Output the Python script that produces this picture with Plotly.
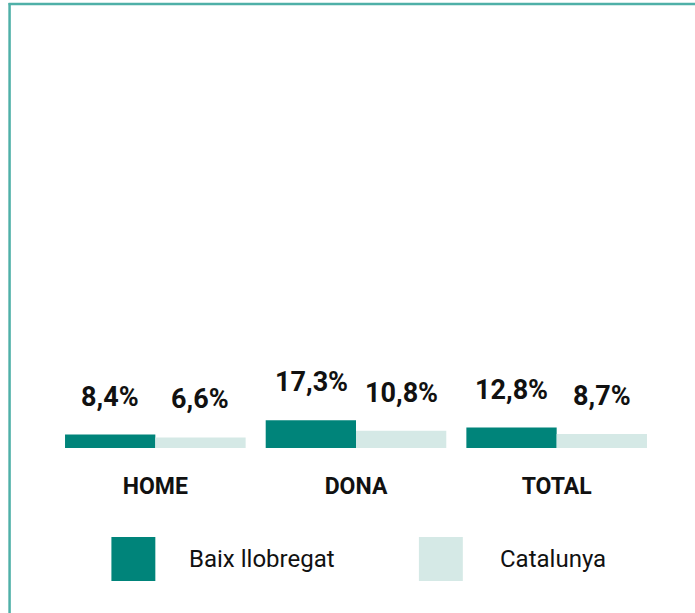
import plotly.graph_objects as go

categories = ["HOME", "DONA", "TOTAL"]
baix_values = [8.4, 17.3, 12.8]
catalunya_values = [6.6, 10.8, 8.7]
series_names = ["Baix llobregat", "Catalunya"]

BAIX_COLOR = "#00847a"
CAT_COLOR = "#d5e9e6"
BORDER_COLOR = "#4fb0a8"
TEXT_COLOR = "#111111"
FONT = "Roboto"

W, H = 695, 613
L, R, T, B = 54.5, 37.5, 48, 165
PW, PH = W - L - R, H - T - B


def px(x):
    return (x - L) / PW


def py(y):
    return (H - B - y) / PH


def fmt(v):
    return f"{v:.1f}".replace(".", ",") + "%"


fig = go.Figure()
fig.add_trace(go.Bar(x=categories, y=baix_values, name=series_names[0],
                     marker=dict(color=BAIX_COLOR, line=dict(width=0))))
fig.add_trace(go.Bar(x=categories, y=catalunya_values, name=series_names[1],
                     marker=dict(color=CAT_COLOR, line=dict(width=0))))

annotations = []
for vals, shift in ((baix_values, -45), (catalunya_values, 45)):
    for c, v in zip(categories, vals):
        annotations.append(dict(x=c, y=v, xref="x", yref="y", text=fmt(v),
                                showarrow=False, xshift=shift, yshift=38,
                                font=dict(family=FONT, size=27, color=TEXT_COLOR,
                                          weight="bold")))

# legend (drawn manually to get large swatches)
shapes = [
    dict(type="rect", xref="paper", yref="paper", x0=px(111), x1=px(155),
         y0=py(537), y1=py(581), fillcolor=BAIX_COLOR, line=dict(width=0)),
    dict(type="rect", xref="paper", yref="paper", x0=px(419), x1=px(463),
         y0=py(537), y1=py(581), fillcolor=CAT_COLOR, line=dict(width=0)),
    # frame lines
    dict(type="line", xref="paper", yref="paper", x0=px(8), x1=px(700),
         y0=py(4), y1=py(4), line=dict(color=BORDER_COLOR, width=2.5)),
    dict(type="line", xref="paper", yref="paper", x0=px(9), x1=px(9),
         y0=py(3), y1=py(620), line=dict(color=BORDER_COLOR, width=2.5)),
]
annotations.append(dict(x=px(187), y=py(559), xref="paper", yref="paper",
                        text=series_names[0], showarrow=False, xanchor="left",
                        yanchor="middle",
                        font=dict(family=FONT, size=24, color=TEXT_COLOR)))
annotations.append(dict(x=px(498), y=py(559), xref="paper", yref="paper",
                        text=series_names[1], showarrow=False, xanchor="left",
                        yanchor="middle",
                        font=dict(family=FONT, size=24, color=TEXT_COLOR)))

fig.update_layout(
    width=W, height=H,
    margin=dict(l=L, r=R, t=T, b=B, pad=0),
    paper_bgcolor="white", plot_bgcolor="white",
    barmode="group", bargap=0.1, bargroupgap=0,
    showlegend=False,
    shapes=shapes, annotations=annotations,
    xaxis=dict(showline=False, showgrid=False, zeroline=False, ticks="",
               ticklabelstandoff=22,
               tickfont=dict(family=FONT, size=23, color=TEXT_COLOR, weight="bold")),
    yaxis=dict(range=[0, 250], visible=False),
)

fig.write_html("out.html",
               config={"displayModeBar": False},
               post_script="document.body.style.margin='0';document.body.style.overflow='hidden';")
